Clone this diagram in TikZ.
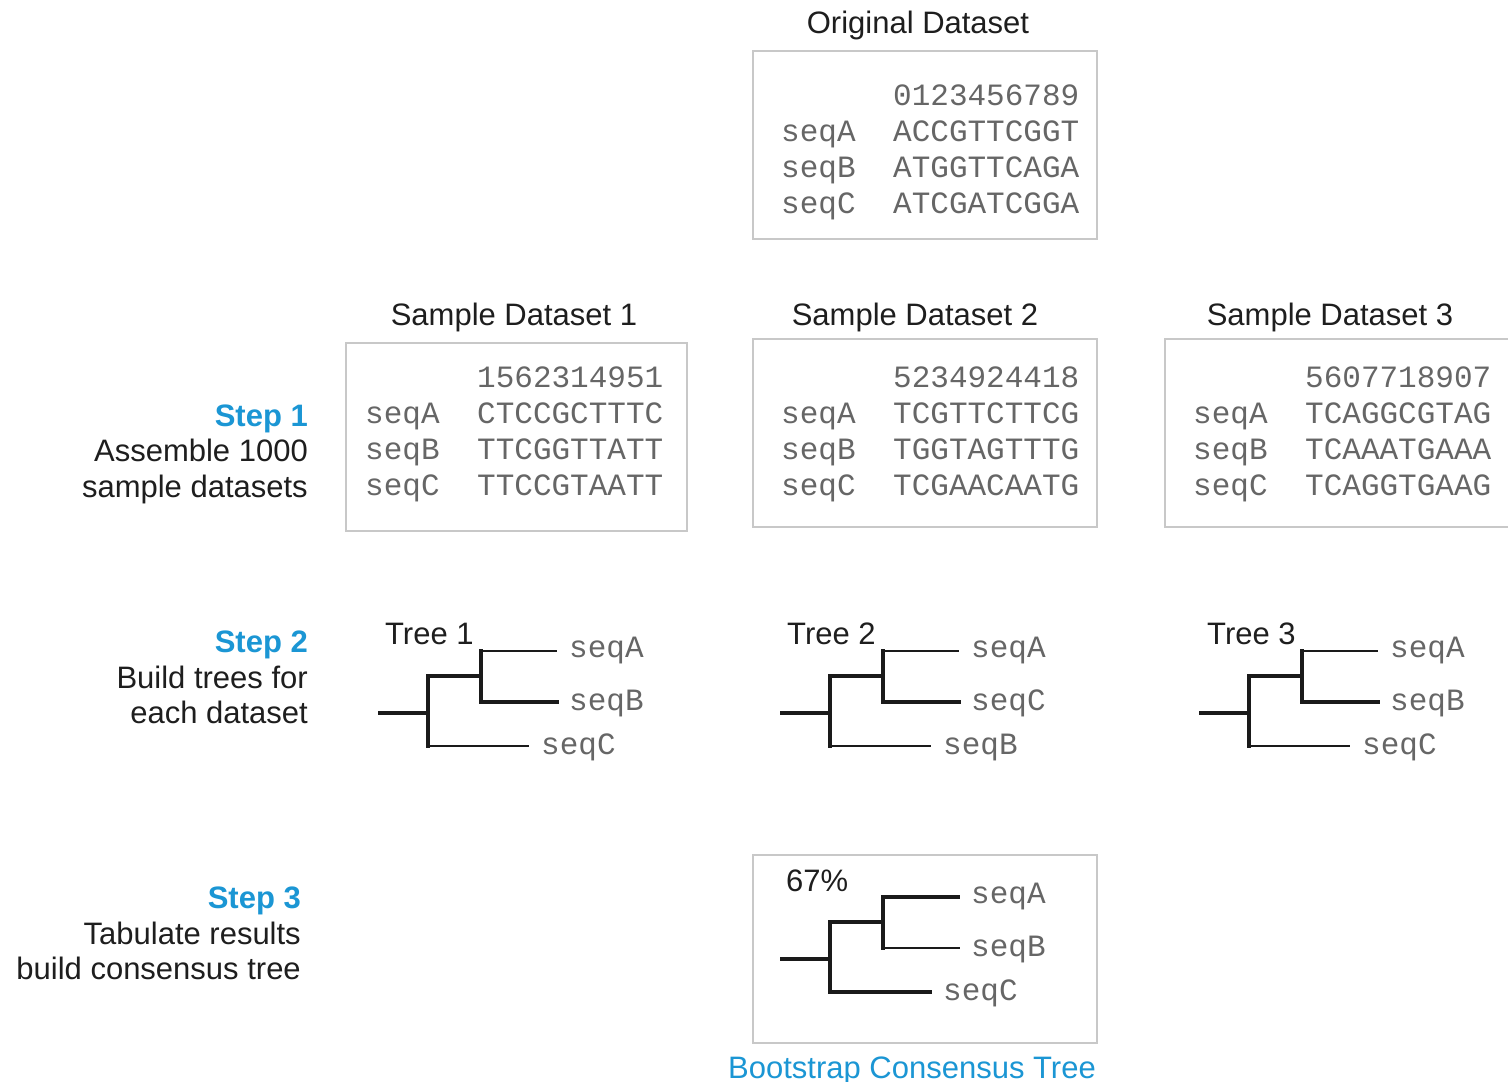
\documentclass[tikz,border=0pt]{standalone}
\usepackage{fontspec}
\setmainfont{Liberation Sans}
\newfontfamily\seqfont{Liberation Mono}
\definecolor{ink}{HTML}{1E1E1E}
\definecolor{seqgray}{HTML}{666666}
\definecolor{boxgray}{HTML}{C8C8C8}
\definecolor{stepblue}{HTML}{1B96D4}
\definecolor{branch}{HTML}{1A1A1A}
\tikzset{
  lbl/.style={inner sep=0pt, text=ink, font=\fontsize{31}{36}\selectfont},
  steptitle/.style={lbl, text=stepblue, font=\fontsize{31}{36}\selectfont\bfseries},
  seqtxt/.style={inner sep=0pt, text=seqgray, font=\seqfont\fontsize{31}{36}\selectfont, anchor=base west},
  databox/.style={draw=boxgray, line width=1.5pt, minimum width=344pt, minimum height=188pt, inner sep=0pt},
  heavy/.style={draw=branch, line width=3.6pt, line cap=rect},
  light/.style={draw=branch, line width=2.4pt, line cap=rect},
}
% one three-taxon tree: prefix, shift right, shift down, top/middle/bottom leaf labels
\newcommand\threetaxon[6]{%
  \begin{scope}[xshift=#2pt, yshift=-#3pt]
    \coordinate (#1root) at (380,713);
    \coordinate (#1n) at (428,713);
    \coordinate (#1nt) at (428,676);
    \coordinate (#1nb) at (428,746);
    \coordinate (#1m) at (481,676);
    \coordinate (#1mt) at (481,651);
    \coordinate (#1mb) at (481,702);
    \coordinate (#1lt) at (556,651);
    \coordinate (#1lm) at (557,702);
    \coordinate (#1lb) at (528,746);
    \node[seqtxt] (#1ta) at (569,657) {#4};
    \node[seqtxt] (#1tm) at (569,710) {#5};
    \node[seqtxt] (#1tb) at (541,754) {#6};
  \end{scope}
  \draw[heavy] (#1root) -- (#1n);
  \draw[heavy] (#1nb) -- (#1nt) -- (#1m);
  \draw[heavy] (#1mt) -- (#1mb);
}
\begin{document}
\begin{tikzpicture}[x=1pt, y=-1pt]
\useasboundingbox (0,0) rectangle (1508,1082);
\fill[white] (0,0) rectangle (1508,1082);

% ---- original data matrix
\node[lbl, anchor=base] (origtitle) at (918,33) {Original Dataset};
\node[databox] (origbox) at (925,145) {};
\node[seqtxt] (o0) at (893,105) {0123456789};
\node[seqtxt] (oA) at (781,141) {seqA};
\node[seqtxt] (oAs) at (893,141) {ACCGTTCGGT};
\node[seqtxt] (oB) at (781,177) {seqB};
\node[seqtxt] (oBs) at (893,177) {ATGGTTCAGA};
\node[seqtxt] (oC) at (781,213) {seqC};
\node[seqtxt] (oCs) at (893,213) {ATCGATCGGA};

% ---- resampled data matrices
\node[lbl, anchor=base] (s1title) at (514,325) {Sample Dataset 1};
\node[databox, minimum width=341pt] (s1box) at (516.5,437) {};
\node[seqtxt] (s1n) at (477,387) {1562314951};
\node[seqtxt] (s1A) at (365,423) {seqA};
\node[seqtxt] (s1As) at (477,423) {CTCCGCTTTC};
\node[seqtxt] (s1B) at (365,459) {seqB};
\node[seqtxt] (s1Bs) at (477,459) {TTCGGTTATT};
\node[seqtxt] (s1C) at (365,495) {seqC};
\node[seqtxt] (s1Cs) at (477,495) {TTCCGTAATT};

\node[lbl, anchor=base] (s2title) at (915,325) {Sample Dataset 2};
\node[databox] (s2box) at (925,433) {};
\node[seqtxt] (s2n) at (893,387) {5234924418};
\node[seqtxt] (s2A) at (781,423) {seqA};
\node[seqtxt] (s2As) at (893,423) {TCGTTCTTCG};
\node[seqtxt] (s2B) at (781,459) {seqB};
\node[seqtxt] (s2Bs) at (893,459) {TGGTAGTTTG};
\node[seqtxt] (s2C) at (781,495) {seqC};
\node[seqtxt] (s2Cs) at (893,495) {TCGAACAATG};

\node[lbl, anchor=base] (s3title) at (1330,325) {Sample Dataset 3};
\node[databox, minimum width=350pt] (s3box) at (1340,433) {};
\node[seqtxt] (s3n) at (1305,387) {5607718907};
\node[seqtxt] (s3A) at (1193,423) {seqA};
\node[seqtxt] (s3As) at (1305,423) {TCAGGCGTAG};
\node[seqtxt] (s3B) at (1193,459) {seqB};
\node[seqtxt] (s3Bs) at (1305,459) {TCAAATGAAA};
\node[seqtxt] (s3C) at (1193,495) {seqC};
\node[seqtxt] (s3Cs) at (1305,495) {TCAGGTGAAG};

% ---- step captions
\node[steptitle, anchor=base east] (st1) at (308,426) {Step 1};
\node[lbl, anchor=base east] (st1a) at (308,461) {Assemble 1000};
\node[lbl, anchor=base east] (st1b) at (308,497) {sample datasets};
\node[steptitle, anchor=base east] (st2) at (308,652) {Step 2};
\node[lbl, anchor=base east] (st2a) at (308,688) {Build trees for};
\node[lbl, anchor=base east] (st2b) at (308,723) {each dataset};
\node[steptitle, anchor=base east] (st3) at (301,908) {Step 3};
\node[lbl, anchor=base east] (st3a) at (301,944) {Tabulate results};
\node[lbl, anchor=base east] (st3b) at (301,979) {build consensus tree};

% ---- trees from each sample
\node[lbl, anchor=base west] (t1lbl) at (385,644) {Tree 1};
\threetaxon{a}{0}{0}{seqA}{seqB}{seqC}
\draw[light] (amt) -- (alt);
\draw[heavy] (amb) -- (alm);
\draw[light] (anb) -- (alb);

\node[lbl, anchor=base west] (t2lbl) at (787,644) {Tree 2};
\threetaxon{b}{402}{0}{seqA}{seqC}{seqB}
\draw[light] (bmt) -- (blt);
\draw[heavy] (bmb) -- (blm);
\draw[light] (bnb) -- (blb);

\node[lbl, anchor=base west] (t3lbl) at (1207,644) {Tree 3};
\threetaxon{c}{821}{0}{seqA}{seqB}{seqC}
\draw[light] (cmt) -- (clt);
\draw[heavy] (cmb) -- (clm);
\draw[light] (cnb) -- (clb);

% ---- consensus tree
\node[databox] (consbox) at (925,949) {};
\node[lbl, anchor=base west] (support) at (786,891) {67\%};
\threetaxon{d}{402}{246}{seqA}{seqB}{seqC}
\draw[heavy] (dmt) -- (dlt);
\draw[light] (dmb) -- (dlm);
\draw[heavy] (dnb) -- (dlb);
\node[lbl, text=stepblue, anchor=base west] (constitle) at (728,1078) {Bootstrap Consensus Tree};
\end{tikzpicture}
\end{document}
